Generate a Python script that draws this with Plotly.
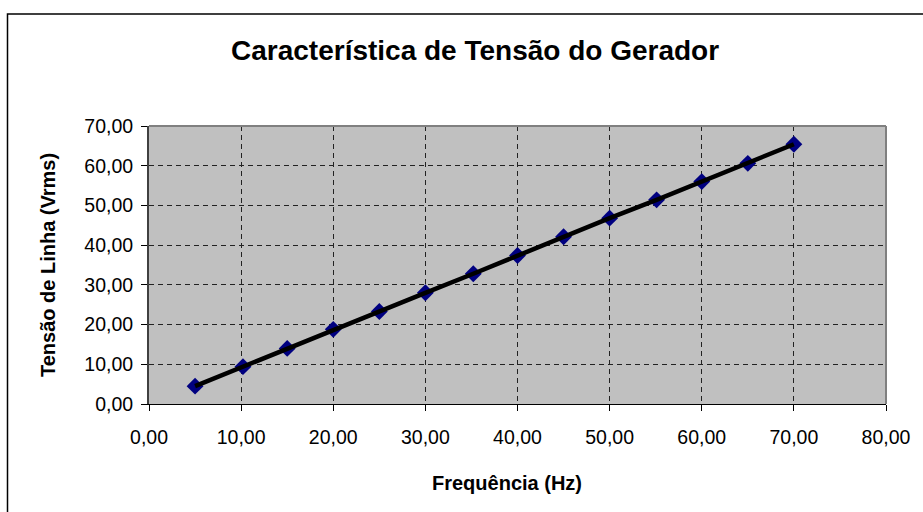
import plotly.graph_objects as go

# Generator line voltage vs. frequency
frequencia_hz = [5, 10.2, 15, 20, 25, 30, 35.2, 40, 45, 50, 55.1, 60, 65, 70]
tensao_vrms = [4.5, 9.4, 14.0, 18.8, 23.3, 28.0, 32.8, 37.4, 42.1, 46.8, 51.4, 56.0, 60.6, 65.4]

x_ticks = [0, 10, 20, 30, 40, 50, 60, 70, 80]
y_ticks = [0, 10, 20, 30, 40, 50, 60, 70]

titulo = "Característica de Tensão do Gerador"
titulo_x = "Frequência (Hz)"
titulo_y = "Tensão de Linha (Vrms)"

FONT = "Arial, Liberation Sans, sans-serif"

fig = go.Figure()

# markers first so the thick line sits over them
fig.add_trace(go.Scatter(
    x=frequencia_hz, y=tensao_vrms, mode="markers",
    marker=dict(symbol="diamond", size=13, color="#000080",
                line=dict(width=0)),
    showlegend=False, hoverinfo="skip",
))
fig.add_trace(go.Scatter(
    x=frequencia_hz, y=tensao_vrms, mode="lines",
    line=dict(color="#000000", width=4.5),
    showlegend=False,
))

grid = dict(showgrid=True, gridcolor="#222222", gridwidth=1, griddash="5px,4px")

fig.update_xaxes(
    range=[0, 80], tickvals=x_ticks, tickformat=".2f",
    ticks="outside", ticklen=6, tickcolor="#000000", tickwidth=1,
    ticklabelstandoff=10,
    showline=True, linecolor="#000000", linewidth=1, mirror=False,
    zeroline=False, tickfont=dict(family=FONT, size=19.5, color="#000000"),
    **grid,
)
fig.update_yaxes(
    range=[0, 70], tickvals=y_ticks, tickformat=".2f",
    ticks="outside", ticklen=6, tickcolor="#000000", tickwidth=1,
    ticklabelstandoff=4,
    showline=True, linecolor="#404040", linewidth=2, mirror=False,
    zeroline=False, tickfont=dict(family=FONT, size=19.5, color="#000000"),
    **grid,
)

W, H = 923, 512
L, R, T, B = 149, 37, 126, 108
pw, ph = W - L - R, H - T - B


def px(xp):
    return (xp - L) / pw


def py(yp):
    return (H - B - yp) / ph


shapes = [
    # chart area frame
    dict(type="rect", xref="paper", yref="paper",
         x0=px(7.5), x1=px(943), y0=py(530), y1=py(14),
         line=dict(color="#000000", width=1.5), layer="below"),
    # plot-area frame, top and right edges
    dict(type="line", xref="paper", yref="paper", x0=0, x1=1, y0=1, y1=1,
         line=dict(color="#808080", width=2)),
    dict(type="line", xref="paper", yref="paper", x0=1, x1=1, y0=0, y1=1,
         line=dict(color="#808080", width=2)),
]

annotations = [
    dict(text=f"<b>{titulo}</b>", xref="paper", yref="paper",
         x=px(475), y=py(51), xanchor="center", yanchor="middle",
         showarrow=False, font=dict(family=FONT, size=28, color="#000000")),
    dict(text=f"<b>{titulo_x}</b>", xref="paper", yref="paper",
         x=px(507), y=py(483), xanchor="center", yanchor="middle",
         showarrow=False, font=dict(family=FONT, size=20, color="#000000")),
    dict(text=f"<b>{titulo_y}</b>", xref="paper", yref="paper",
         x=px(48), y=py(265), xanchor="center", yanchor="middle",
         textangle=-90, showarrow=False,
         font=dict(family=FONT, size=20, color="#000000")),
]

fig.update_layout(
    width=W, height=H,
    margin=dict(l=L, r=R, t=T, b=B, pad=0),
    paper_bgcolor="#ffffff", plot_bgcolor="#C0C0C0",
    separators=",.",
    shapes=shapes, annotations=annotations,
    showlegend=False,
)

fig.write_html("out.html")
